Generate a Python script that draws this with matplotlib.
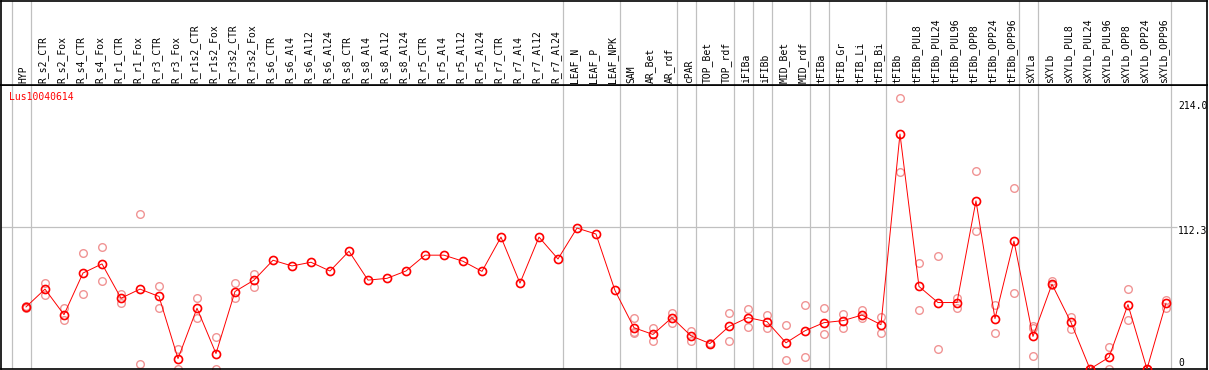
import matplotlib
matplotlib.use("Agg")
import matplotlib.pyplot as plt

# sample names (header labels)
samples = ["HYP", "R_s2_CTR", "R_s2_Fox", "R_s4_CTR", "R_s4_Fox", "R_r1_CTR", "R_r1_Fox",
           "R_r3_CTR", "R_r3_Fox", "R_r1s2_CTR", "R_r1s2_Fox", "R_r3s2_CTR", "R_r3s2_Fox",
           "R_s6_CTR", "R_s6_Al4", "R_s6_Al12", "R_s6_Al24", "R_s8_CTR", "R_s8_Al4",
           "R_s8_Al12", "R_s8_Al24", "R_r5_CTR", "R_r5_Al4", "R_r5_Al12", "R_r5_Al24",
           "R_r7_CTR", "R_r7_Al4", "R_r7_Al12", "R_r7_Al24", "LEAF_N", "LEAF_P", "LEAF_NPK",
           "SAM", "AR_Bet", "AR_rdf", "cPAR", "TOP_Bet", "TOP_rdf", "iFIBa", "iFIBb",
           "MID_Bet", "MID_rdf", "tFIBa", "tFIB_Gr", "tFIB_Li", "tFIB_Bi", "tFIBb",
           "tFIBb_PUL8", "tFIBb_PUL24", "tFIBb_PUL96", "tFIBb_OPP8", "tFIBb_OPP24",
           "tFIBb_OPP96", "sXYLa", "sXYLb", "sXYLb_PUL8", "sXYLb_PUL24", "sXYLb_PUL96",
           "sXYLb_OPP8", "sXYLb_OPP24", "sXYLb_OPP96"]

# mean expression per sample
means = [49.0, 63.1, 42.9, 75.8, 83.0, 55.9, 63.1, 57.3, 8.2, 48.0, 12.2, 61.2, 70.2,
         85.9, 81.4, 84.3, 77.4, 93.0, 70.2, 71.6, 77.4, 89.9, 89.9, 85.1, 77.1,
         104.2, 67.8, 104.2, 86.9, 111.3, 106.6, 62.0,
         32.6, 27.3, 40.6, 26.2, 20.1, 33.6, 40.6, 37.4, 20.7, 30.2, 36.6, 38.2, 42.6,
         35.0, 185.6, 65.2, 52.5, 52.5, 132.8, 39.8, 101.0, 25.7, 67.0, 36.8, 0.0, 9.2,
         50.9, 0.0, 51.9]

# individual replicates (empty = single sample)
replicates = [[50.0, 48.0], [67.6, 58.3], [48.2, 38.7], [91.7, 59.6], [96.2, 69.4],
              [59.6, 52.5], [122.5, 4.2], [65.2, 48.5], [16.1, 0.2], [55.9, 40.6],
              [24.9, 0.2], [67.8, 55.7], [75.0, 64.9],
              [], [], [], [], [], [], [], [], [], [], [], [], [], [], [], [], [], [], [],
              [40.0, 28.5, 29.0], [32.1, 22.3], [44.2, 36.6], [29.7, 22.5], [20.5, 19.5],
              [44.5, 22.3], [47.7, 33.4], [42.4, 32.6], [35.0, 7.2], [50.9, 9.8],
              [48.0, 27.8], [43.2, 32.6], [46.4, 40.0], [40.8, 28.6], [214.0, 155.3],
              [83.5, 46.4], [89.1, 15.9], [55.9, 48.2], [156.7, 109.0], [50.3, 28.6],
              [143.2, 59.9], [33.9, 32.6, 10.6], [69.2, 66.0], [40.8, 31.8], [0.0, 0.0],
              [17.7, 0.0], [62.8, 38.4], [0.0, 0.0], [54.6, 48.5]]

# group boundaries (index of last sample in each group)
group_ends = [-1, 0, 28, 31, 34, 35, 37, 38, 39, 41, 42, 45, 52, 53, 60]

y_max = 214.0
y_mid = 112.3
gene = "Lus10040614"

W, H = 1209, 370
fig = plt.figure(figsize=(W / 100, H / 100), dpi=100)
font = dict(family="DejaVu Sans Mono", size=7)

xlim = (-1.316, 62.16)
ax = fig.add_axes([1 / W, 1 / H, 1206 / W, 284 / H])
hd = fig.add_axes([1 / W, 285 / H, 1206 / W, 84.5 / H])

for a in (ax, hd):
    a.set_xlim(*xlim)
    a.set_xticks([])
    a.set_yticks([])
    for s in a.spines.values():
        s.set_color("black")
        s.set_linewidth(1.2)
    for g in group_ends:
        a.axvline(g + 0.24, color="#c0c0c0", lw=0.9, zorder=0)

ax.set_ylim(0, 224.3)
hd.set_ylim(0, 1)

# header labels
for i, name in enumerate(samples):
    hd.text(i - 0.12, 0.025, name, rotation=90, ha="center", va="bottom", **font)

# horizontal reference line
ax.hlines(y_mid, xlim[0], 60.6, color="#c0c0c0", lw=0.9, zorder=0)

# replicates
for i, reps in enumerate(replicates):
    if reps:
        ax.plot([i] * len(reps), reps, "o", ms=5.5, mfc="none", mec="#f09494",
                mew=1.0, zorder=2)

# means
x = list(range(len(means)))
ax.plot(x, means, "-", color="red", lw=0.7, zorder=3)
ax.plot(x, means, "o", ms=5.8, mfc="none", mec="red", mew=1.2, zorder=4)

# y labels
for val, lab, dy in [(y_max, "214.0", -8), (y_mid, "112.3", -4), (0, "0", 6.5)]:
    ax.annotate(lab, xy=(60.63, val), xytext=(0, dy), textcoords="offset pixels",
                ha="left", va="center", annotation_clip=False, clip_on=True, **font)

ax.text(-0.9, 214.5, gene, color="red", ha="left", va="center", **font)

fig.savefig("out.png", dpi=100)
